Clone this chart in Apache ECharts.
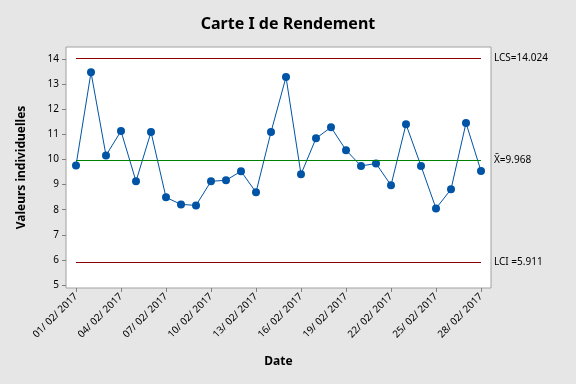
<!DOCTYPE html>
<html><head><meta charset="utf-8">
<script src="https://cdn.jsdelivr.net/npm/echarts@6/dist/echarts.min.js"></script>
<style>html,body{margin:0;padding:0;background:#e6e6e6;}#c{width:576px;height:384px;}</style>
</head><body><div id="c"></div>
<script>
const days = [1,2,3,4,5,6,7,8,9,10,11,12,13,14,15,16,17,18,19,20,21,22,23,24,25,26,27,28];
const dateLabels = {1:"01/ 02/ 2017",4:"04/ 02/ 2017",7:"07/ 02/ 2017",10:"10/ 02/ 2017",13:"13/ 02/ 2017",16:"16/ 02/ 2017",19:"19/ 02/ 2017",22:"22/ 02/ 2017",25:"25/ 02/ 2017",28:"28/ 02/ 2017"};
const xTicks = [1,4,7,10,13,16,19,22,25,28];
const yTicks = [5,6,7,8,9,10,11,12,13,14];
const values = [9.76,13.47,10.16,11.13,9.13,11.09,8.49,8.21,8.17,9.13,9.17,9.53,8.69,11.09,13.28,9.41,10.84,11.28,10.37,9.74,9.84,8.97,11.40,9.74,8.05,8.81,11.45,9.54];
const LCS = 14.024, MEAN = 9.968, LCI = 5.911;

const font = '"Noto Sans", "DejaVu Sans", sans-serif';
const chart = echarts.init(document.getElementById('c'));
const limLine = (v, color, txt) => [{coord:[1, v], lineStyle:{color:color,width:1,type:'solid'}, label:{show:true,position:'end',distance:13,formatter:txt,color:'#000',fontSize:10,fontFamily:font}}, {coord:[28, v]}];
chart.setOption({
  backgroundColor:'#e6e6e6',
  animation:false,
  title:{text:'Carte I de Rendement', left:'center', top:11, textStyle:{fontSize:16,fontWeight:'bold',color:'#000',fontFamily:font}},
  grid:{left:66,right:85,top:47,bottom:96,show:true,backgroundColor:'#fff',borderColor:'#a0a0a0',borderWidth:1},
  xAxis:{type:'value',min:1-10/15,max:28+10/15,
    name:'Date',nameLocation:'middle',nameGap:68,nameTextStyle:{fontSize:12,fontWeight:'bold',color:'#000',fontFamily:font},
    axisLine:{show:false},splitLine:{show:false},
    axisTick:{show:true,length:4,customValues:xTicks,lineStyle:{color:'#808080'}},
    axisLabel:{customValues:xTicks,rotate:45,fontSize:10,color:'#000',fontFamily:font,margin:7,formatter:v=>dateLabels[Math.round(v)]||''}},
  yAxis:{type:'value',min:5-3/25.1,max:14+12/25.1,
    name:'Valeurs individuelles',nameLocation:'middle',nameGap:38,nameTextStyle:{fontSize:12,fontWeight:'bold',color:'#000',fontFamily:font},
    axisLine:{show:false},splitLine:{show:false},
    axisTick:{show:true,length:4,customValues:yTicks,lineStyle:{color:'#808080'}},
    axisLabel:{customValues:yTicks,fontSize:10,color:'#000',fontFamily:font,margin:7}},
  series:[{type:'line',data:days.map((d,i)=>[d,values[i]]),
    symbol:'circle',symbolSize:8,itemStyle:{color:'#0054a6'},lineStyle:{color:'#0054a6',width:1},z:3,
    markLine:{silent:true,symbol:['none','none'],data:[
      limLine(LCS,'#8b0000','LCS=14.024'),
      limLine(MEAN,'#008000','X\u0304=9.968'),
      limLine(LCI,'#8b0000','LCI =5.911')]}}]
});
</script></body></html>
